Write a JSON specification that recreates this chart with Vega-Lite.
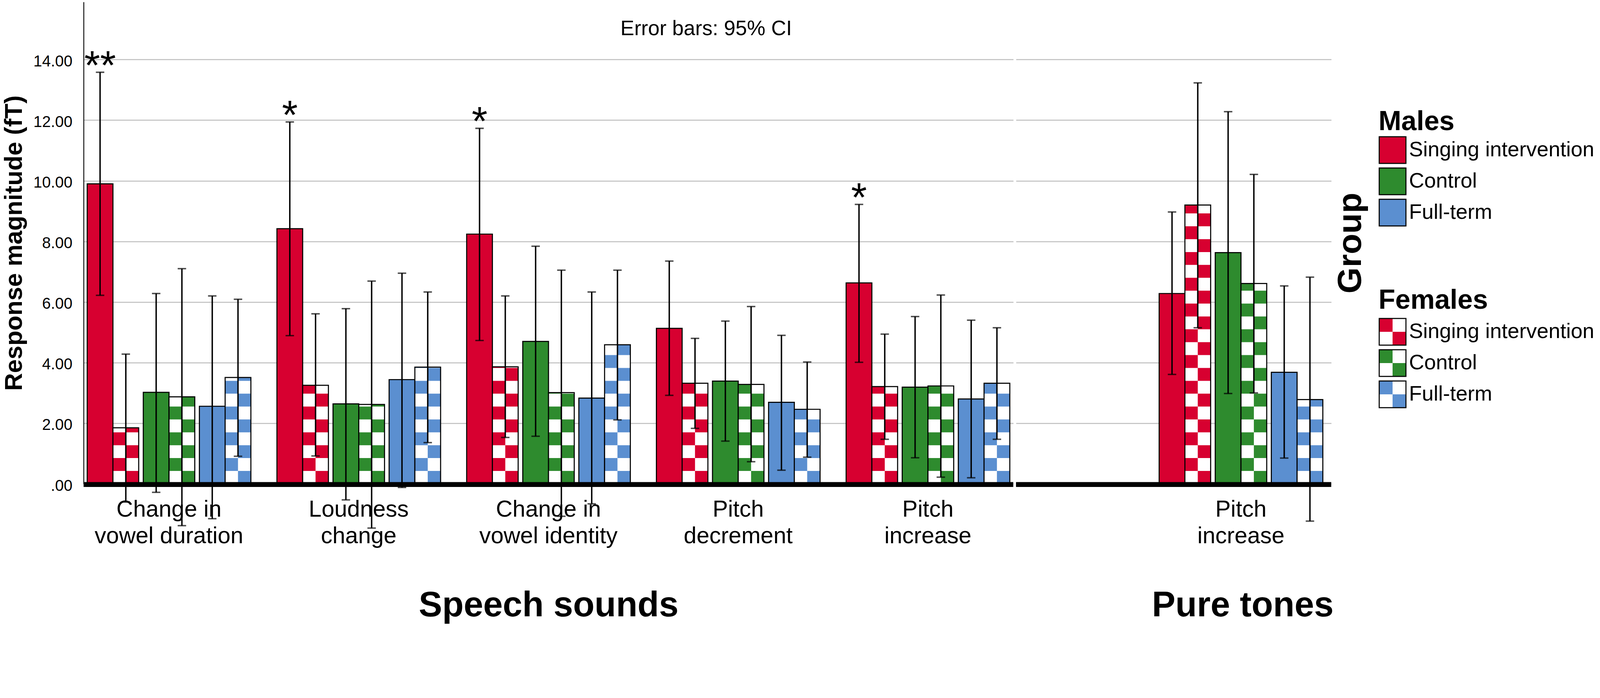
{
  "$schema": "https://vega.github.io/schema/vega-lite/v6.json",
  "padding": {"left": 5, "top": 5, "right": 0, "bottom": 12},
  "background": "white",
  "config": {
    "font": "Liberation Sans",
    "view": {"stroke": null},
    "axis": {"gridColor": "#BEBEBE", "gridWidth": 2.7, "labelColor": "black", "titleColor": "black", "labelFont": "Liberation Sans", "titleFont": "Liberation Sans", "labelLimit": 1000, "titleLimit": 2000},
    "legend": {"orient": "none", "labelFont": "Liberation Sans", "titleFont": "Liberation Sans", "labelColor": "black", "titleColor": "black", "labelFontSize": 54, "titleFontSize": 70, "titleFontWeight": "bold", "symbolSize": 4679, "symbolStrokeColor": "black", "symbolStrokeWidth": 2.7, "rowPadding": 0, "labelOffset": 6, "titlePadding": 0, "labelLimit": 1000, "titleLimit": 1000}
  },
  "datasets": {
    "speech": [
      {"cond": "Change in\nvowel duration", "sex": "Males", "group": "Singing intervention", "mean": 9.90, "lo": 6.22, "hi": 13.58, "sig": "**"},
      {"cond": "Change in\nvowel duration", "sex": "Females", "group": "Singing intervention", "mean": 1.85, "lo": -0.60, "hi": 4.28, "sig": ""},
      {"cond": "Change in\nvowel duration", "sex": "Males", "group": "Control", "mean": 3.02, "lo": -0.28, "hi": 6.28, "sig": ""},
      {"cond": "Change in\nvowel duration", "sex": "Females", "group": "Control", "mean": 2.87, "lo": -1.38, "hi": 7.10, "sig": ""},
      {"cond": "Change in\nvowel duration", "sex": "Males", "group": "Full-term", "mean": 2.56, "lo": -1.15, "hi": 6.20, "sig": ""},
      {"cond": "Change in\nvowel duration", "sex": "Females", "group": "Full-term", "mean": 3.51, "lo": 0.91, "hi": 6.09, "sig": ""},
      {"cond": "Loudness\nchange", "sex": "Males", "group": "Singing intervention", "mean": 8.42, "lo": 4.89, "hi": 11.94, "sig": "*"},
      {"cond": "Loudness\nchange", "sex": "Females", "group": "Singing intervention", "mean": 3.25, "lo": 0.92, "hi": 5.61, "sig": ""},
      {"cond": "Loudness\nchange", "sex": "Males", "group": "Control", "mean": 2.64, "lo": -0.53, "hi": 5.78, "sig": ""},
      {"cond": "Loudness\nchange", "sex": "Females", "group": "Control", "mean": 2.62, "lo": -1.46, "hi": 6.69, "sig": ""},
      {"cond": "Loudness\nchange", "sex": "Males", "group": "Full-term", "mean": 3.44, "lo": -0.12, "hi": 6.95, "sig": ""},
      {"cond": "Loudness\nchange", "sex": "Females", "group": "Full-term", "mean": 3.85, "lo": 1.36, "hi": 6.33, "sig": ""},
      {"cond": "Change in\nvowel identity", "sex": "Males", "group": "Singing intervention", "mean": 8.24, "lo": 4.73, "hi": 11.73, "sig": "*"},
      {"cond": "Change in\nvowel identity", "sex": "Females", "group": "Singing intervention", "mean": 3.86, "lo": 1.53, "hi": 6.20, "sig": ""},
      {"cond": "Change in\nvowel identity", "sex": "Males", "group": "Control", "mean": 4.70, "lo": 1.57, "hi": 7.84, "sig": ""},
      {"cond": "Change in\nvowel identity", "sex": "Females", "group": "Control", "mean": 3.01, "lo": -1.07, "hi": 7.05, "sig": ""},
      {"cond": "Change in\nvowel identity", "sex": "Males", "group": "Full-term", "mean": 2.83, "lo": -0.66, "hi": 6.33, "sig": ""},
      {"cond": "Change in\nvowel identity", "sex": "Females", "group": "Full-term", "mean": 4.59, "lo": 2.11, "hi": 7.05, "sig": ""},
      {"cond": "Pitch\ndecrement", "sex": "Males", "group": "Singing intervention", "mean": 5.13, "lo": 2.92, "hi": 7.35, "sig": ""},
      {"cond": "Pitch\ndecrement", "sex": "Females", "group": "Singing intervention", "mean": 3.32, "lo": 1.83, "hi": 4.80, "sig": ""},
      {"cond": "Pitch\ndecrement", "sex": "Males", "group": "Control", "mean": 3.39, "lo": 1.41, "hi": 5.37, "sig": ""},
      {"cond": "Pitch\ndecrement", "sex": "Females", "group": "Control", "mean": 3.28, "lo": 0.73, "hi": 5.85, "sig": ""},
      {"cond": "Pitch\ndecrement", "sex": "Males", "group": "Full-term", "mean": 2.69, "lo": 0.45, "hi": 4.90, "sig": ""},
      {"cond": "Pitch\ndecrement", "sex": "Females", "group": "Full-term", "mean": 2.46, "lo": 0.88, "hi": 4.02, "sig": ""},
      {"cond": "Pitch\nincrease", "sex": "Males", "group": "Singing intervention", "mean": 6.63, "lo": 4.01, "hi": 9.22, "sig": "*"},
      {"cond": "Pitch\nincrease", "sex": "Females", "group": "Singing intervention", "mean": 3.21, "lo": 1.47, "hi": 4.94, "sig": ""},
      {"cond": "Pitch\nincrease", "sex": "Males", "group": "Control", "mean": 3.19, "lo": 0.86, "hi": 5.52, "sig": ""},
      {"cond": "Pitch\nincrease", "sex": "Females", "group": "Control", "mean": 3.23, "lo": 0.22, "hi": 6.23, "sig": ""},
      {"cond": "Pitch\nincrease", "sex": "Males", "group": "Full-term", "mean": 2.80, "lo": 0.20, "hi": 5.40, "sig": ""},
      {"cond": "Pitch\nincrease", "sex": "Females", "group": "Full-term", "mean": 3.32, "lo": 1.47, "hi": 5.15, "sig": ""}
    ],
    "tones": [
      {"cond": "Pitch\nincrease", "sex": "Males", "group": "Singing intervention", "mean": 6.28, "lo": 3.61, "hi": 8.97, "sig": ""},
      {"cond": "Pitch\nincrease", "sex": "Females", "group": "Singing intervention", "mean": 9.20, "lo": 5.15, "hi": 13.23, "sig": ""},
      {"cond": "Pitch\nincrease", "sex": "Males", "group": "Control", "mean": 7.63, "lo": 2.98, "hi": 12.28, "sig": ""},
      {"cond": "Pitch\nincrease", "sex": "Females", "group": "Control", "mean": 6.61, "lo": 3.00, "hi": 10.21, "sig": ""},
      {"cond": "Pitch\nincrease", "sex": "Males", "group": "Full-term", "mean": 3.68, "lo": 0.85, "hi": 6.53, "sig": ""},
      {"cond": "Pitch\nincrease", "sex": "Females", "group": "Full-term", "mean": 2.78, "lo": -1.23, "hi": 6.82, "sig": ""}
    ]
  },
  "spacing": -22,
  "hconcat": [
    {
      "width": 2380,
      "height": 1233,
      "layer": [
        {
          "data": {"name": "speech"},
          "encoding": {
            "x": {
              "field": "cond", "type": "nominal",
              "sort": ["Change in\nvowel duration", "Loudness\nchange", "Change in\nvowel identity", "Pitch\ndecrement", "Pitch\nincrease"],
              "scale": {"paddingInner": 0.138, "paddingOuter": 0.019},
              "axis": {"title": "Speech sounds", "labelExpr": "split(datum.label, '\\n')", "labelFontSize": 59, "labelLineHeight": 68, "labelPadding": 36, "labelAngle": 0, "labelOverlap": false, "ticks": false, "domain": false, "titleFontSize": 90, "titleFontWeight": "bold", "titlePadding": 104}
            },
            "y": {
              "field": "mean", "type": "quantitative",
              "scale": {"domain": [0, 15.9], "nice": false},
              "axis": {"values": [0, 2, 4, 6, 8, 10, 12, 14], "labelExpr": "datum.value === 0 ? '.00' : format(datum.value, '.2f')", "labelFontSize": 40, "labelPadding": 29, "labelOffset": 5, "ticks": false, "domain": true, "domainColor": "black", "domainWidth": 2.25, "grid": true, "title": "Response magnitude (fT)", "titleFontSize": 63, "titleFontWeight": "bold", "titlePadding": 16}
            }
          },
          "resolve": {"scale": {"xOffset": "independent"}},
          "layer": [
            {"transform": [{"filter": "datum.sex === 'Males'"}], "mark": {"type": "bar", "width": {"band": 1}, "stroke": "black", "strokeWidth": 2.7},
             "encoding": {
               "xOffset": {"field": "group", "type": "nominal", "scale": {"domain": ["Singing intervention", "Control", "Full-term"], "range": [0, 353.1], "paddingInner": 0.541, "paddingOuter": 0}},
               "color": {"field": "group", "type": "nominal", "scale": {"domain": ["Singing intervention", "Control", "Full-term"], "range": ["#D70030", "#2E8B2E", "#5B8FD0"]}, "legend": {"title": "Males", "legendX": 3315, "legendY": 273, "rowPadding": 0}}}},
            {"transform": [{"filter": "datum.sex === 'Females'"}], "mark": {"type": "bar", "width": {"band": 1}},
             "encoding": {
               "xOffset": {"field": "group", "type": "nominal", "scale": {"domain": ["Singing intervention", "Control", "Full-term"], "range": [65.9, 419.0], "paddingInner": 0.541, "paddingOuter": 0}},
               "fill": {"field": "group", "type": "nominal", "scale": {"domain": ["Control", "Full-term", "Singing intervention"], "range": ["#2E8B2E", "#5B8FD0", "#D70030"]}, "legend": {"title": "Females", "values": ["Singing intervention", "Control", "Full-term"], "legendX": 3315, "legendY": 730, "titlePadding": 8, "rowPadding": 0, "symbolType": "M-1,0L-1,-1L0,-1L0,0ZM1,0L1,1L0,1L0,0ZM0,-1L1,-1L1,0L0,0ZM1,0L1,-1L0,-1L0,0ZM0,1L-1,1L-1,0L0,0ZM-1,0L-1,1L0,1L0,0Z", "symbolDash": [68.4, 68.4]}}}},
            {"transform": [{"filter": "datum.sex === 'Females'"}], "mark": {"type": "rule", "color": "white", "strokeWidth": 32.95, "strokeDash": [32.95, 32.95]},
             "encoding": {
               "xOffset": {"field": "group", "type": "nominal", "scale": {"domain": ["Singing intervention", "Control", "Full-term"], "range": [49.4, 402.5], "paddingInner": 0.541, "paddingOuter": 0}},
               "y": {"datum": 0}, "y2": {"field": "mean"}}},
            {"transform": [{"filter": "datum.sex === 'Females'"}], "mark": {"type": "rule", "color": "white", "strokeWidth": 32.95, "strokeDash": [32.95, 32.95], "strokeDashOffset": 32.95},
             "encoding": {
               "xOffset": {"field": "group", "type": "nominal", "scale": {"domain": ["Singing intervention", "Control", "Full-term"], "range": [82.4, 435.5], "paddingInner": 0.541, "paddingOuter": 0}},
               "y": {"datum": 0}, "y2": {"field": "mean"}}},
            {"transform": [{"filter": "datum.sex === 'Females'"}], "mark": {"type": "bar", "width": {"band": 1}, "fillOpacity": 0, "stroke": "black", "strokeWidth": 2.7},
             "encoding": {
               "xOffset": {"field": "group", "type": "nominal", "scale": {"domain": ["Singing intervention", "Control", "Full-term"], "range": [65.9, 419.0], "paddingInner": 0.541, "paddingOuter": 0}}}},
            {"transform": [{"filter": "datum.sex === 'Males'"}], "mark": {"type": "rule", "color": "black", "strokeWidth": 3.6},
             "encoding": {
               "xOffset": {"field": "group", "type": "nominal", "scale": {"domain": ["Singing intervention", "Control", "Full-term"], "range": [0, 353.1], "paddingInner": 0.541, "paddingOuter": 0}},
               "y": {"field": "lo", "type": "quantitative"}, "y2": {"field": "hi"}}},
            {"transform": [{"filter": "datum.sex === 'Females'"}], "mark": {"type": "rule", "color": "black", "strokeWidth": 3.6},
             "encoding": {
               "xOffset": {"field": "group", "type": "nominal", "scale": {"domain": ["Singing intervention", "Control", "Full-term"], "range": [65.9, 419.0], "paddingInner": 0.541, "paddingOuter": 0}},
               "y": {"field": "lo", "type": "quantitative"}, "y2": {"field": "hi"}}},
            {"transform": [{"filter": "datum.sex === 'Males'"}], "mark": {"type": "tick", "color": "black", "thickness": 3.6, "size": 21.6},
             "encoding": {
               "xOffset": {"field": "group", "type": "nominal", "scale": {"domain": ["Singing intervention", "Control", "Full-term"], "range": [0, 353.1], "paddingInner": 0.541, "paddingOuter": 0}},
               "y": {"field": "hi", "type": "quantitative"}}},
            {"transform": [{"filter": "datum.sex === 'Males'"}], "mark": {"type": "tick", "color": "black", "thickness": 3.6, "size": 21.6},
             "encoding": {
               "xOffset": {"field": "group", "type": "nominal", "scale": {"domain": ["Singing intervention", "Control", "Full-term"], "range": [0, 353.1], "paddingInner": 0.541, "paddingOuter": 0}},
               "y": {"field": "lo", "type": "quantitative"}}},
            {"transform": [{"filter": "datum.sex === 'Females'"}], "mark": {"type": "tick", "color": "black", "thickness": 3.6, "size": 21.6},
             "encoding": {
               "xOffset": {"field": "group", "type": "nominal", "scale": {"domain": ["Singing intervention", "Control", "Full-term"], "range": [65.9, 419.0], "paddingInner": 0.541, "paddingOuter": 0}},
               "y": {"field": "hi", "type": "quantitative"}}},
            {"transform": [{"filter": "datum.sex === 'Females'"}], "mark": {"type": "tick", "color": "black", "thickness": 3.6, "size": 21.6},
             "encoding": {
               "xOffset": {"field": "group", "type": "nominal", "scale": {"domain": ["Singing intervention", "Control", "Full-term"], "range": [65.9, 419.0], "paddingInner": 0.541, "paddingOuter": 0}},
               "y": {"field": "lo", "type": "quantitative"}}},
            {"transform": [{"filter": "datum.sex === 'Males'"}], "mark": {"type": "text", "fontSize": 104, "baseline": "alphabetic", "dy": 18, "dx": 33, "color": "black"},
             "encoding": {
               "xOffset": {"field": "group", "type": "nominal", "scale": {"domain": ["Singing intervention", "Control", "Full-term"], "range": [0, 353.1], "paddingInner": 0.541, "paddingOuter": 0}},
               "y": {"field": "hi", "type": "quantitative"}, "text": {"field": "sig"}}}
          ]
        },
        {
          "data": {"values": [{"note": "Error bars: 95% CI"}]},
          "mark": {"type": "text", "fontSize": 53, "baseline": "alphabetic", "dx": -82, "color": "black"},
          "encoding": {"x": {"datum": "Pitch\ndecrement"}, "y": {"datum": 14.8}, "text": {"field": "note"}}
        },
        {
          "data": {"values": [{}]},
          "mark": {"type": "rule", "color": "black", "strokeWidth": 12.6, "yOffset": 1.8},
          "encoding": {"y": {"datum": 0, "axis": {"values": [0, 2, 4, 6, 8, 10, 12, 14], "labelExpr": "datum.value === 0 ? '.00' : format(datum.value, '.2f')", "labelFontSize": 40, "labelPadding": 29, "labelOffset": 5, "ticks": false, "domain": true, "domainColor": "black", "domainWidth": 2.25, "grid": true, "title": "Response magnitude (fT)", "titleFontSize": 63, "titleFontWeight": "bold", "titlePadding": 16}}}
        }
      ]
    },
    {
      "width": 807,
      "height": 1233,
      "layer": [
        {
          "data": {"name": "tones"},
          "encoding": {
            "x": {
              "field": "cond", "type": "nominal",
              "scale": {"paddingInner": 0, "paddingOuter": 0.4634, "align": 0.944},
              "axis": {"title": "Pure tones", "titleX": 580, "labelExpr": "split(datum.label, '\\n')", "labelFontSize": 59, "labelLineHeight": 68, "labelPadding": 36, "labelAngle": 0, "labelOverlap": false, "ticks": false, "domain": false, "titleFontSize": 90, "titleFontWeight": "bold", "titlePadding": 104}
            },
            "y": {
              "field": "mean", "type": "quantitative",
              "scale": {"domain": [0, 15.9], "nice": false},
              "axis": {"orient": "right", "values": [0, 2, 4, 6, 8, 10, 12, 14], "labels": false, "ticks": false, "domain": false, "grid": true, "title": "Group", "titleFontSize": 86, "titleFontWeight": "bold", "titleAngle": 270, "titleBaseline": "top", "titlePadding": 7}
            }
          },
          "resolve": {"scale": {"xOffset": "independent"}},
          "layer": [
            {"transform": [{"filter": "datum.sex === 'Males'"}], "mark": {"type": "bar", "width": {"band": 1}, "stroke": "black", "strokeWidth": 2.7},
             "encoding": {
               "xOffset": {"field": "group", "type": "nominal", "scale": {"domain": ["Singing intervention", "Control", "Full-term"], "range": [0, 353.1], "paddingInner": 0.541, "paddingOuter": 0}},
               "color": {"field": "group", "type": "nominal", "scale": {"domain": ["Singing intervention", "Control", "Full-term"], "range": ["#D70030", "#2E8B2E", "#5B8FD0"]}, "legend": {"title": "Males", "legendX": 3315, "legendY": 273, "rowPadding": 0}}}},
            {"transform": [{"filter": "datum.sex === 'Females'"}], "mark": {"type": "bar", "width": {"band": 1}},
             "encoding": {
               "xOffset": {"field": "group", "type": "nominal", "scale": {"domain": ["Singing intervention", "Control", "Full-term"], "range": [65.9, 419.0], "paddingInner": 0.541, "paddingOuter": 0}},
               "fill": {"field": "group", "type": "nominal", "scale": {"domain": ["Control", "Full-term", "Singing intervention"], "range": ["#2E8B2E", "#5B8FD0", "#D70030"]}, "legend": {"title": "Females", "values": ["Singing intervention", "Control", "Full-term"], "legendX": 3315, "legendY": 730, "titlePadding": 8, "rowPadding": 0, "symbolType": "M-1,0L-1,-1L0,-1L0,0ZM1,0L1,1L0,1L0,0ZM0,-1L1,-1L1,0L0,0ZM1,0L1,-1L0,-1L0,0ZM0,1L-1,1L-1,0L0,0ZM-1,0L-1,1L0,1L0,0Z", "symbolDash": [68.4, 68.4]}}}},
            {"transform": [{"filter": "datum.sex === 'Females'"}], "mark": {"type": "rule", "color": "white", "strokeWidth": 32.95, "strokeDash": [32.95, 32.95]},
             "encoding": {
               "xOffset": {"field": "group", "type": "nominal", "scale": {"domain": ["Singing intervention", "Control", "Full-term"], "range": [49.4, 402.5], "paddingInner": 0.541, "paddingOuter": 0}},
               "y": {"datum": 0}, "y2": {"field": "mean"}}},
            {"transform": [{"filter": "datum.sex === 'Females'"}], "mark": {"type": "rule", "color": "white", "strokeWidth": 32.95, "strokeDash": [32.95, 32.95], "strokeDashOffset": 32.95},
             "encoding": {
               "xOffset": {"field": "group", "type": "nominal", "scale": {"domain": ["Singing intervention", "Control", "Full-term"], "range": [82.4, 435.5], "paddingInner": 0.541, "paddingOuter": 0}},
               "y": {"datum": 0}, "y2": {"field": "mean"}}},
            {"transform": [{"filter": "datum.sex === 'Females'"}], "mark": {"type": "bar", "width": {"band": 1}, "fillOpacity": 0, "stroke": "black", "strokeWidth": 2.7},
             "encoding": {
               "xOffset": {"field": "group", "type": "nominal", "scale": {"domain": ["Singing intervention", "Control", "Full-term"], "range": [65.9, 419.0], "paddingInner": 0.541, "paddingOuter": 0}}}},
            {"transform": [{"filter": "datum.sex === 'Males'"}], "mark": {"type": "rule", "color": "black", "strokeWidth": 3.6},
             "encoding": {
               "xOffset": {"field": "group", "type": "nominal", "scale": {"domain": ["Singing intervention", "Control", "Full-term"], "range": [0, 353.1], "paddingInner": 0.541, "paddingOuter": 0}},
               "y": {"field": "lo", "type": "quantitative"}, "y2": {"field": "hi"}}},
            {"transform": [{"filter": "datum.sex === 'Females'"}], "mark": {"type": "rule", "color": "black", "strokeWidth": 3.6},
             "encoding": {
               "xOffset": {"field": "group", "type": "nominal", "scale": {"domain": ["Singing intervention", "Control", "Full-term"], "range": [65.9, 419.0], "paddingInner": 0.541, "paddingOuter": 0}},
               "y": {"field": "lo", "type": "quantitative"}, "y2": {"field": "hi"}}},
            {"transform": [{"filter": "datum.sex === 'Males'"}], "mark": {"type": "tick", "color": "black", "thickness": 3.6, "size": 21.6},
             "encoding": {
               "xOffset": {"field": "group", "type": "nominal", "scale": {"domain": ["Singing intervention", "Control", "Full-term"], "range": [0, 353.1], "paddingInner": 0.541, "paddingOuter": 0}},
               "y": {"field": "hi", "type": "quantitative"}}},
            {"transform": [{"filter": "datum.sex === 'Males'"}], "mark": {"type": "tick", "color": "black", "thickness": 3.6, "size": 21.6},
             "encoding": {
               "xOffset": {"field": "group", "type": "nominal", "scale": {"domain": ["Singing intervention", "Control", "Full-term"], "range": [0, 353.1], "paddingInner": 0.541, "paddingOuter": 0}},
               "y": {"field": "lo", "type": "quantitative"}}},
            {"transform": [{"filter": "datum.sex === 'Females'"}], "mark": {"type": "tick", "color": "black", "thickness": 3.6, "size": 21.6},
             "encoding": {
               "xOffset": {"field": "group", "type": "nominal", "scale": {"domain": ["Singing intervention", "Control", "Full-term"], "range": [65.9, 419.0], "paddingInner": 0.541, "paddingOuter": 0}},
               "y": {"field": "hi", "type": "quantitative"}}},
            {"transform": [{"filter": "datum.sex === 'Females'"}], "mark": {"type": "tick", "color": "black", "thickness": 3.6, "size": 21.6},
             "encoding": {
               "xOffset": {"field": "group", "type": "nominal", "scale": {"domain": ["Singing intervention", "Control", "Full-term"], "range": [65.9, 419.0], "paddingInner": 0.541, "paddingOuter": 0}},
               "y": {"field": "lo", "type": "quantitative"}}}
          ]
        },
        {
          "data": {"values": [{}]},
          "mark": {"type": "rule", "color": "black", "strokeWidth": 12.6, "yOffset": 1.8},
          "encoding": {"y": {"datum": 0, "axis": {"orient": "right", "values": [0, 2, 4, 6, 8, 10, 12, 14], "labels": false, "ticks": false, "domain": false, "grid": true, "title": "Group", "titleFontSize": 86, "titleFontWeight": "bold", "titleAngle": 270, "titleBaseline": "top", "titlePadding": 7}}}
        }
      ]
    }
  ],
  "resolve": {"scale": {"x": "independent", "y": "independent", "color": "shared", "fill": "shared"}, "legend": {"color": "shared", "fill": "shared"}}
}
